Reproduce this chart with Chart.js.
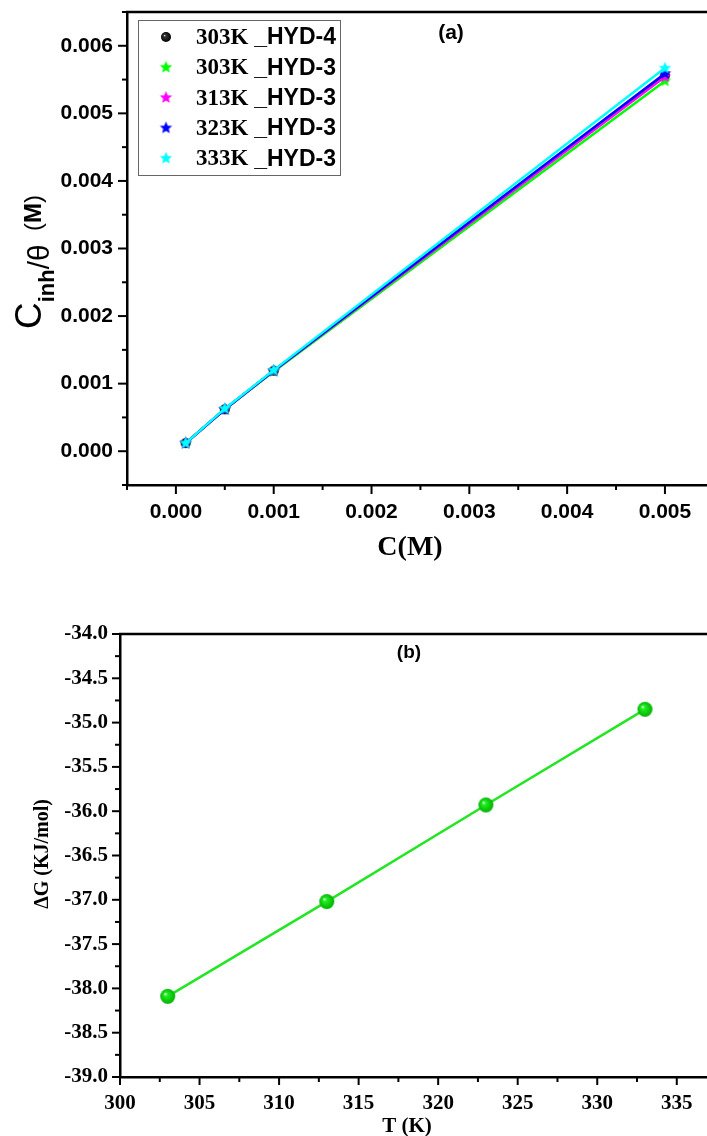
<!DOCTYPE html>
<html>
<head>
<meta charset="utf-8">
<script src="https://cdn.jsdelivr.net/npm/chart.js@4.4.0/dist/chart.umd.min.js"></script>
<style>
    html, body { margin: 0; padding: 0; background: #fff; }
    body { width: 707px; height: 1136px; position: relative; overflow: hidden; }
    canvas { position: absolute; left: 0; }
    #chartA { top: 0; }
    #chartB { top: 590px; }
</style>
</head>
<body>
<canvas id="chartA" width="707" height="580"></canvas>
<canvas id="chartB" width="707" height="546"></canvas>
<script>
// Panel (a): Langmuir plot, C_inh/theta vs C
const concentrations = [0.0001, 0.0005, 0.001, 0.005];
const hyd4At303 = [0.00012, 0.00062, 0.00119, 0.00556];
const hyd3At303 = [0.00012, 0.00062, 0.00118, 0.00548];
const hyd3At313 = [0.00012, 0.00062, 0.00119, 0.00554];
const hyd3At323 = [0.00012, 0.00062, 0.00119, 0.00559];
const hyd3At333 = [0.00012, 0.00063, 0.00120, 0.00567];
const seriesLabels = ['303K _HYD-4', '303K _HYD-3', '313K _HYD-3', '323K _HYD-3', '333K _HYD-3'];
const seriesColors = ['#000000', '#00ff00', '#ff00ff', '#0000ff', '#00ffff'];

// Panel (b): free energy vs temperature
const temperatures = [303, 313, 323, 333];
const deltaG = [-38.09, -37.02, -35.93, -34.85];

const SANS = '"Liberation Sans", Arial, sans-serif';
const SERIF = '"Liberation Serif", "Times New Roman", serif';

// Marker images
function makeStar(color, radius) {
    const size = Math.ceil(radius * 2) + 2;
    const c = document.createElement('canvas');
    c.width = c.height = size;
    const g = c.getContext('2d');
    const cx = size / 2, cy = size / 2;
    g.beginPath();
    for (let i = 0; i < 10; i++) {
        const r = i % 2 === 0 ? radius : radius * 0.45;
        const a = -Math.PI / 2 + i * Math.PI / 5;
        g.lineTo(cx + r * Math.cos(a), cy + r * Math.sin(a));
    }
    g.closePath();
    g.fillStyle = color;
    g.fill();
    return c;
}

function makeBall(color, edge, radius) {
    const size = Math.ceil(radius * 2) + 2;
    const c = document.createElement('canvas');
    c.width = c.height = size;
    const g = c.getContext('2d');
    const cx = size / 2, cy = size / 2;
    const grad = g.createRadialGradient(cx - radius * 0.35, cy - radius * 0.35, 0, cx, cy, radius);
    grad.addColorStop(0, '#ffffff');
    grad.addColorStop(0.25, color);
    grad.addColorStop(1, edge);
    g.beginPath();
    g.arc(cx, cy, radius, 0, Math.PI * 2);
    g.fillStyle = grad;
    g.fill();
    return c;
}

const markersA = [
    makeBall('#333333', '#000000', 5),
    makeStar(seriesColors[1], 6.5),
    makeStar(seriesColors[2], 6.5),
    makeStar(seriesColors[3], 6.5),
    makeStar(seriesColors[4], 6.5),
];
const markerB = makeBall('#22ee22', '#00b000', 7.5);

function isMajor(value, step) {
    const q = value / step;
    return Math.abs(q - Math.round(q)) < 1e-6;
}

function buildTicks(min, max, step) {
    const out = [];
    const n = Math.floor((max - min) / step + 1e-6);
    for (let i = 0; i <= n; i++) {
        out.push({ value: Math.round((min + i * step) * 1e6) / 1e6 });
    }
    return out;
}

// Draws top frame line and major/minor tick marks
const frameTicksPlugin = {
    id: 'frameTicks',
    afterDraw(chart, args, opts) {
        const ctx = chart.ctx;
        const area = chart.chartArea;
        const xs = chart.scales.x, ys = chart.scales.y;
        ctx.save();
        ctx.strokeStyle = '#000';
        ctx.lineWidth = 2.5;
        ctx.beginPath();
        ctx.moveTo(area.left - 1, area.top);
        ctx.lineTo(area.right, area.top);
        ctx.stroke();

        ctx.lineWidth = 2;
        xs.ticks.forEach(t => {
            const px = xs.getPixelForValue(t.value);
            const len = isMajor(t.value, opts.xMajor) ? opts.major : opts.minor;
            ctx.beginPath();
            ctx.moveTo(px, area.bottom);
            ctx.lineTo(px, area.bottom + len);
            ctx.stroke();
        });
        ys.ticks.forEach(t => {
            const py = ys.getPixelForValue(t.value);
            const len = isMajor(t.value, opts.yMajor) ? opts.major : opts.minor;
            ctx.beginPath();
            ctx.moveTo(area.left, py);
            ctx.lineTo(area.left - len, py);
            ctx.stroke();
        });
        ctx.restore();
        if (opts.decorate) opts.decorate(ctx, chart);
    }
};

function drawRotatedParts(ctx, parts, cx, cy) {
    ctx.save();
    ctx.translate(cx, cy);
    ctx.rotate(-Math.PI / 2);
    ctx.fillStyle = '#000';
    ctx.textBaseline = 'alphabetic';
    let total = 0;
    parts.forEach(p => { ctx.font = p.font; p.w = ctx.measureText(p.text).width; total += p.w; });
    let x = -total / 2;
    parts.forEach(p => {
        ctx.font = p.font;
        ctx.fillText(p.text, x, p.dy);
        x += p.w;
    });
    ctx.restore();
}

function decorateA(ctx, chart) {
    ctx.save();
    ctx.fillStyle = '#000';
    ctx.textAlign = 'center';
    ctx.textBaseline = 'middle';
    ctx.font = `bold 21px ${SANS}`;
    ctx.fillText('(a)', 451, 33);
    ctx.font = `bold 28px ${SERIF}`;
    ctx.fillText('C(M)', 410, 548);

    // Legend box
    ctx.strokeStyle = '#666';
    ctx.lineWidth = 1;
    ctx.strokeRect(138.5, 20.5, 202, 155);
    ctx.textAlign = 'left';
    ctx.textBaseline = 'middle';
    seriesLabels.forEach((label, i) => {
        const y = 37 + i * 30.3;
        const m = markersA[i];
        ctx.drawImage(m, 166 - m.width / 2, y - m.height / 2);
        const [temp, rest] = label.split(' ');
        ctx.font = `bold 23px ${SERIF}`;
        ctx.fillText(temp + ' ', 196, y + 1);
        const w = ctx.measureText(temp + ' ').width;
        ctx.font = `bold 23px ${SANS}`;
        ctx.fillText(rest, 196 + w, y + 1);
    });
    ctx.restore();

    drawRotatedParts(ctx, [
        { text: 'C', font: `37px ${SANS}`, dy: 0 },
        { text: 'inh', font: `bold 22px ${SANS}`, dy: 13 },
        { text: '/', font: `30px ${SANS}`, dy: 8 },
        { text: 'θ', font: `30px ${SANS}`, dy: 8 },
        { text: '  (', font: `24px ${SANS}`, dy: 0 },
        { text: 'M', font: `bold 24px ${SANS}`, dy: 0 },
        { text: ')', font: `24px ${SANS}`, dy: 0 },
    ], 41, 262);
}

function decorateB(ctx, chart) {
    ctx.save();
    ctx.fillStyle = '#000';
    ctx.textAlign = 'center';
    ctx.textBaseline = 'middle';
    ctx.font = `bold 19px ${SANS}`;
    ctx.fillText('(b)', 409, 63);
    ctx.font = `bold 21px ${SERIF}`;
    ctx.fillText('T (K)', 407, 537);
    ctx.restore();
    drawRotatedParts(ctx, [
        { text: 'ΔG (KJ/mol)', font: `bold 20px ${SERIF}`, dy: 0 },
    ], 48, 264);
}

function axisBase(min, max, step, labelStep, digits, font, padding, fitSize) {
    return {
        type: 'linear',
        min: min,
        max: max,
        grid: { display: false, drawTicks: false },
        border: { display: true, color: '#000', width: 2.5 },
        afterBuildTicks: scale => { scale.ticks = buildTicks(min, max, step); },
        afterFit: scale => {
            fitSize(scale);
            scale.paddingLeft = 0;
            scale.paddingRight = 0;
            scale.paddingTop = 0;
            scale.paddingBottom = 0;
        },
        ticks: {
            autoSkip: false,
            maxRotation: 0,
            padding: padding,
            color: '#000',
            font: font,
            callback: v => isMajor(v, labelStep) ? Number(v).toFixed(digits) : ''
        }
    };
}

// Chart (a)
const datasetsA = [hyd4At303, hyd3At303, hyd3At313, hyd3At323, hyd3At333].map((vals, i) => ({
    label: seriesLabels[i],
    data: concentrations.map((c, k) => ({ x: c, y: vals[k] })),
    borderColor: seriesColors[i],
    borderWidth: 2.5,
    pointStyle: markersA[i],
    showLine: true,
    order: 4 - i
}));

new Chart(document.getElementById('chartA'), {
    type: 'scatter',
    data: { datasets: datasetsA },
    options: {
        responsive: false,
        animation: false,
        devicePixelRatio: 1,
        layout: { autoPadding: false, padding: { top: 12, left: 0, right: 0, bottom: 0 } },
        plugins: {
            legend: { display: false },
            tooltip: { enabled: false },
            frameTicks: { xMajor: 0.001, yMajor: 0.001, major: 9, minor: 5, decorate: decorateA }
        },
        scales: {
            x: axisBase(-0.0005, 0.00543, 0.0005, 0.001, 3,
                { family: SANS, size: 21, weight: 'bold', lineHeight: 1 }, 17,
                s => { s.height = 95; }),
            y: axisBase(-0.0005, 0.0065, 0.0005, 0.001, 3,
                { family: SANS, size: 21, weight: 'bold', lineHeight: 1 }, 14,
                s => { s.width = 127; })
        }
    },
    plugins: [frameTicksPlugin]
});

// Chart (b)
new Chart(document.getElementById('chartB'), {
    type: 'scatter',
    data: {
        datasets: [{
            label: 'ΔG',
            data: temperatures.map((t, k) => ({ x: t, y: deltaG[k] })),
            borderColor: '#22e622',
            borderWidth: 2.5,
            pointStyle: markerB,
            showLine: true
        }]
    },
    options: {
        responsive: false,
        animation: false,
        devicePixelRatio: 1,
        layout: { autoPadding: false, padding: { top: 44, left: 0, right: 0, bottom: 0 } },
        plugins: {
            legend: { display: false },
            tooltip: { enabled: false },
            frameTicks: { xMajor: 5, yMajor: 0.5, major: 8, minor: 5, decorate: decorateB }
        },
        scales: {
            x: axisBase(300, 336.9, 2.5, 5, 0,
                { family: SERIF, size: 21, weight: 'bold', lineHeight: 1 }, 16,
                s => { s.height = 59; }),
            y: axisBase(-39, -34, 0.25, 0.5, 1,
                { family: SERIF, size: 21, weight: 'bold', lineHeight: 1 }, 12,
                s => { s.width = 120; })
        }
    },
    plugins: [frameTicksPlugin]
});
</script>
</body>
</html>
